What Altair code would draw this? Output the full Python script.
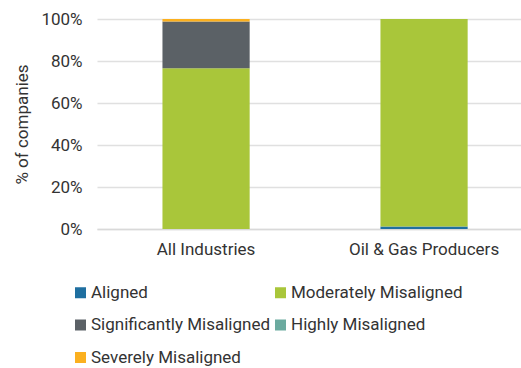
import altair as alt
import pandas as pd

categories = ["All Industries", "Oil & Gas Producers"]
series = ["Aligned", "Moderately Misaligned", "Significantly Misaligned",
          "Highly Misaligned", "Severely Misaligned"]
colors = ["#1f6fa0", "#a9c63a", "#5b6166", "#6baa9f", "#fbb01f"]
all_industries = [0.0, 76.5, 22.3, 0.0, 1.2]
oil_gas = [1.2, 98.8, 0.0, 0.0, 0.0]

rows = []
for cat, vals in zip(categories, [all_industries, oil_gas]):
    for i, (s, v) in enumerate(zip(series, vals)):
        rows.append({"category": cat, "series": s, "value": v / 100.0, "order": i})
df = pd.DataFrame(rows)

font = "Roboto"
text_color = "#333333"
fs = 17

chart = alt.Chart(df).mark_bar().encode(
    x=alt.X("category:N", sort=categories,
            scale=alt.Scale(paddingInner=0.6, paddingOuter=0.2725, align=0.551),
            axis=alt.Axis(title=None, labelAngle=0, ticks=False, labelPadding=12,
                          domainColor="#d9d9d9", domainWidth=1.5,
                          labelFontSize=fs, labelColor=text_color, labelFont=font)),
    y=alt.Y("value:Q", stack="zero",
            scale=alt.Scale(domain=[0, 1], nice=False),
            axis=alt.Axis(title="% of companies", format=".0%", values=[0, 0.2, 0.4, 0.6, 0.8, 1.0],
                          ticks=False, domain=False, labelPadding=15,
                          gridColor="#e0e0e0", gridWidth=1.5,
                          labelFontSize=fs, labelColor=text_color, labelFont=font,
                          titleFontSize=fs, titleColor=text_color, titleFont=font,
                          titleFontWeight="normal", titleAngle=-90, titleX=-75, titleY=105,
                          titleAlign="center", titleBaseline="middle")),
    color=alt.Color("series:N", sort=series,
                    scale=alt.Scale(domain=series, range=colors),
                    legend=alt.Legend(title=None, orient="none", legendX=-25, legendY=265,
                                      columns=2, columnPadding=1, rowPadding=14.5,
                                      symbolType="square", symbolSize=121, symbolStrokeWidth=0,
                                      labelFontSize=fs, labelColor=text_color, labelFont=font,
                                      labelLimit=400,
                                      labelOffset=2, direction="horizontal")),
    order=alt.Order("order:Q", sort="ascending"),
).properties(
    width=424, height=210,
    padding={"left": 97, "top": 19, "right": 0, "bottom": 139},
    autosize=alt.AutoSizeParams(type="none"),
).configure_view(stroke=None)

chart.save("out.html", embed_options={"renderer": "svg", "actions": False})
